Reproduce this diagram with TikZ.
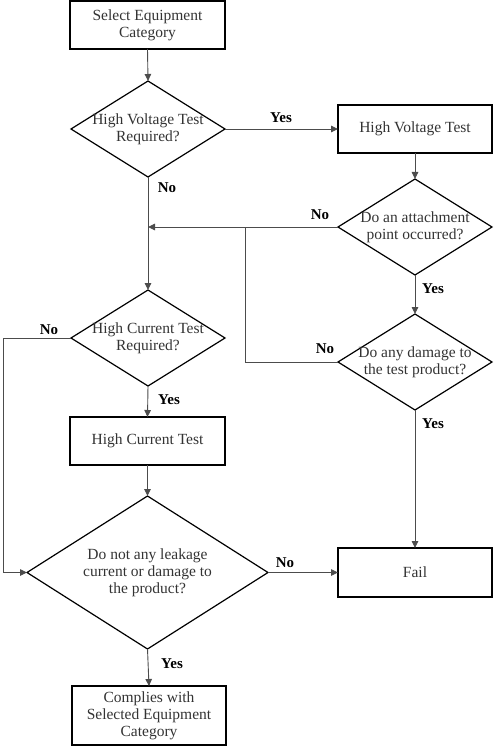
\documentclass[tikz,border=0pt]{standalone}
\usepackage{fontspec}
\setmainfont{Liberation Serif}
\usetikzlibrary{shapes.geometric,arrows.meta}
\begin{document}
\begin{tikzpicture}[x=1pt,y=-1pt,
  every node/.style={inner sep=0pt,outer sep=0pt},
  boxnode/.style={draw=black,line width=1.2pt,fill=white,minimum width=155pt},
  dia/.style={draw=black,line width=1.2pt,shape=diamond,minimum width=154pt,minimum height=96pt},
  txt/.style={align=center,text=black!80,font=\fontsize{15.5}{17}\selectfont},
  lbl/.style={font=\fontsize{15}{17}\selectfont\bfseries},
  conn/.style={draw=black!70,line width=0.9pt},
  arr/.style={conn,-{Triangle[length=7pt,width=6.5pt]}}]
\useasboundingbox (0,0) rectangle (493,751);
% boxes
\node[boxnode,minimum height=48pt] (b1) at (147.5,25) {};
\node[txt] (b1t) at (b1) {Select Equipment\\Category};
\node[boxnode,minimum height=48pt,minimum width=154pt] (b2) at (415,129) {};
\node[txt] (b2t) at (b2) {High Voltage Test};
\node[boxnode,minimum height=48pt] (b3) at (147.5,441) {};
\node[txt] (b3t) at (b3) {High Current Test};
\node[boxnode,minimum height=49pt,minimum width=154pt] (fail) at (415,572.5) {};
\node[txt] (failt) at (fail) {Fail};
\node[boxnode,minimum height=59pt,minimum width=154pt] (b4) at (149,715.5) {};
\node[txt] (b4t) at (b4) {Complies with\\Selected Equipment\\Category};
% diamonds
\node[dia] (d1) at (148,129) {};
\node[txt] (d1t) at (d1) {High Voltage Test\\Required?};
\node[dia] (d3) at (415,227) {};
\node[txt] (d3t) at (d3) {Do an attachment\\point occurred?};
\node[dia] (d4) at (415,362) {};
\node[txt] (d4t) at (d4) {Do any damage to\\the test product?};
\node[dia] (d5) at (148,338) {};
\node[txt] (d5t) at (d5) {High Current Test\\Required?};
\node[dia,minimum width=241pt,minimum height=153pt] (d6) at (147.5,572.5) {};
\node[txt] (d6t) at (d6) {Do not any leakage\\current or damage to\\the product?};
% helper coordinates
\coordinate (j1) at (148,227);
\coordinate (j2) at (245,227);
\coordinate (l1) at (3,338);
% connectors
\draw[arr] (b1.south) -- (d1.north);
\draw[arr] (d1.east) -- (b2.west);
\draw[arr] (b2.south) -- (d3.north);
\draw[arr] (d3.west) -- (j1);
\draw[arr] (d1.south) -- (d5.north);
\draw[arr] (d3.south) -- (d4.north);
\draw[conn] (d4.west) -| (j2);
\draw[arr] (d5.west) -- (l1) |- (d6.west);
\draw[arr] (d5.south) -- (b3.north);
\draw[arr] (b3.south) -- (d6.north);
\draw[arr] (d6.east) -- (fail.west);
\draw[arr] (d4.south) -- (fail.north);
\draw[arr] (d6.south) -- (b4.north);
% labels
\node[lbl] (ly1) at (281,118) {Yes};
\node[lbl] (ln1) at (167,188) {No};
\node[lbl] (ln3) at (320,215) {No};
\node[lbl] (ly3) at (433,289) {Yes};
\node[lbl] (ln4) at (325,349) {No};
\node[lbl] (ln5) at (49,330) {No};
\node[lbl] (ly4) at (433,424) {Yes};
\node[lbl] (ly5) at (169,400) {Yes};
\node[lbl] (ln6) at (285,563) {No};
\node[lbl] (ly6) at (172,664) {Yes};
\end{tikzpicture}
\end{document}
